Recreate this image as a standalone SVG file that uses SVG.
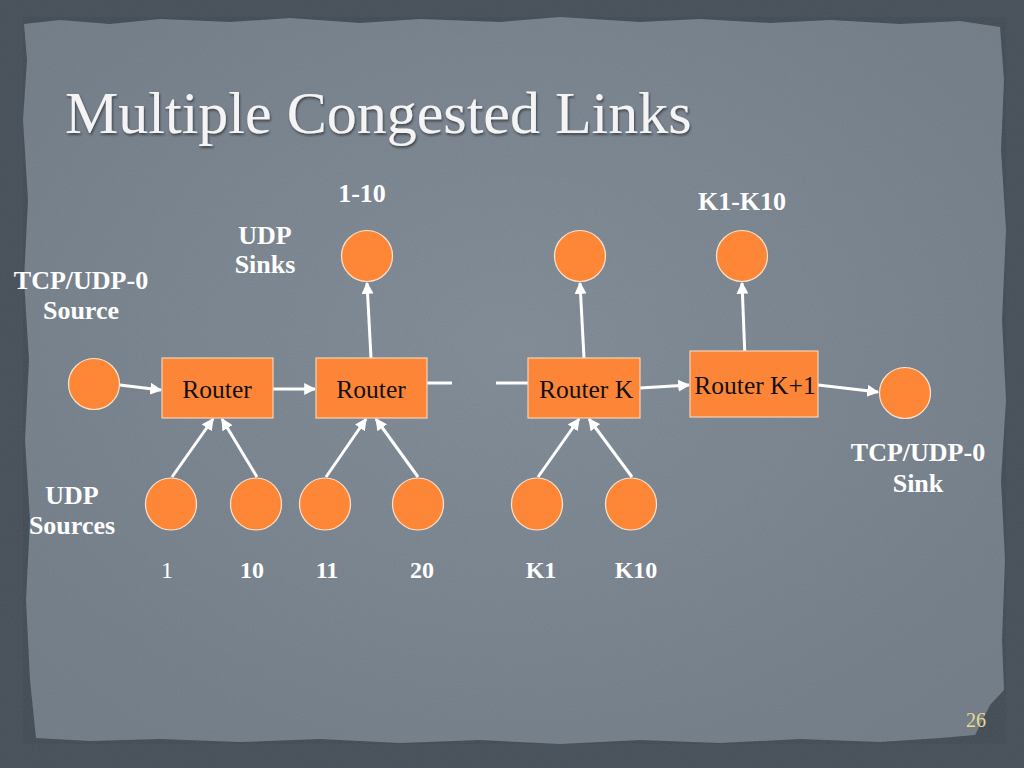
<svg xmlns="http://www.w3.org/2000/svg" width="1024" height="768" viewBox="0 0 1024 768">
<defs>
  <radialGradient id="panelGrad" cx="50%" cy="45%" r="65%">
    <stop offset="0" stop-color="#86919c"/>
    <stop offset="1" stop-color="#78838e"/>
  </radialGradient>
  <filter id="noise" x="0" y="0" width="100%" height="100%">
    <feTurbulence type="fractalNoise" baseFrequency="0.9" numOctaves="2" seed="3" result="n"/>
    <feColorMatrix type="matrix" values="0 0 0 0 0  0 0 0 0 0  0 0 0 0 0  0 0 0 0.12 0"/>
  </filter>
  <filter id="shadow" x="-5%" y="-20%" width="110%" height="140%">
    <feDropShadow dx="1" dy="2" stdDeviation="1.2" flood-color="#222" flood-opacity="0.6"/>
  </filter>
  <marker id="arrow" viewBox="0 0 10 10" refX="9" refY="5" markerWidth="4" markerHeight="4" orient="auto" markerUnits="strokeWidth">
    <path d="M0,0 L10,5 L0,10 z" fill="#ffffff"/>
  </marker>
  <style>
    .lbl { font-family: "Liberation Serif", "Times New Roman", serif; font-weight: bold; font-size: 26px; fill: #ffffff; text-anchor: middle; }
    .num { font-family: "Liberation Serif", "Times New Roman", serif; font-weight: bold; font-size: 24px; fill: #ffffff; text-anchor: middle; }
    .rt { font-family: "Liberation Serif", "Times New Roman", serif; font-size: 25.5px; fill: #111111; text-anchor: middle; }
    .box { fill: #fd8537; stroke: #f7d2b5; stroke-width: 1.2; }
    .node { fill: #fe8737; stroke: #fbe3cf; stroke-width: 1.2; }
    .conn { stroke: #ffffff; stroke-width: 3; fill: none; }
    .arr { stroke: #ffffff; stroke-width: 3; fill: none; marker-end: url(#arrow); }
  </style>
</defs>

<!-- background -->
<rect x="0" y="0" width="1024" height="768" fill="#4f5862"/>
<rect x="0" y="0" width="1024" height="768" filter="url(#noise)"/>
<path d="M24,24 L60,20 L110,24 L160,19 L230,22 L290,18 L360,23 L420,19 L500,22 L560,17 L640,22 L700,19 L770,23 L830,20 L900,24 L960,21 L1000,27 L1004,80 L1001,150 L1006,230 L1002,320 L1006,400 L1001,480 L1005,560 L1002,640 L1004,690 L990,705 L975,735 L940,738 L880,742 L800,739 L720,743 L640,740 L560,744 L480,740 L400,743 L320,739 L240,742 L160,739 L90,741 L36,738 L30,680 L26,600 L30,520 L25,440 L29,360 L24,280 L28,200 L23,120 L27,60 Z" fill="url(#panelGrad)"/>
<path d="M24,24 L60,20 L110,24 L160,19 L230,22 L290,18 L360,23 L420,19 L500,22 L560,17 L640,22 L700,19 L770,23 L830,20 L900,24 L960,21 L1000,27 L1004,80 L1001,150 L1006,230 L1002,320 L1006,400 L1001,480 L1005,560 L1002,640 L1004,690 L990,705 L975,735 L940,738 L880,742 L800,739 L720,743 L640,740 L560,744 L480,740 L400,743 L320,739 L240,742 L160,739 L90,741 L36,738 L30,680 L26,600 L30,520 L25,440 L29,360 L24,280 L28,200 L23,120 L27,60 Z" filter="url(#noise)" opacity="0.6"/>

<!-- title -->
<text x="65" y="133" font-family="'Liberation Serif', 'Times New Roman', serif" font-size="60" fill="#f4f4f4" filter="url(#shadow)">Multiple Congested Links</text>

<!-- connectors -->
<g id="connectors">
  <line class="arr" x1="120" y1="385" x2="161" y2="390"/>
  <line class="arr" x1="273" y1="389" x2="315" y2="389"/>
  <line class="conn" x1="427" y1="383" x2="452" y2="383"/>
  <line class="conn" x1="496" y1="383" x2="528" y2="383"/>
  <line class="arr" x1="640" y1="388" x2="689" y2="385"/>
  <line class="arr" x1="818" y1="385" x2="878" y2="392"/>
  <line class="arr" x1="371" y1="358" x2="367" y2="283"/>
  <line class="arr" x1="584" y1="358" x2="580" y2="283"/>
  <line class="arr" x1="745" y1="358" x2="742" y2="283"/>
  <line class="arr" x1="172" y1="477" x2="213" y2="419"/>
  <line class="arr" x1="257" y1="477" x2="222" y2="419"/>
  <line class="arr" x1="326" y1="477" x2="366" y2="419"/>
  <line class="arr" x1="418" y1="477" x2="376" y2="419"/>
  <line class="arr" x1="538" y1="477" x2="579" y2="419"/>
  <line class="arr" x1="632" y1="477" x2="589" y2="419"/>
</g>

<!-- routers -->
<g id="router1"><rect class="box" x="162" y="358" width="111" height="60"/><text class="rt" x="217" y="398">Router</text></g>
<g id="router2"><rect class="box" x="316" y="358" width="111" height="60"/><text class="rt" x="371" y="398">Router</text></g>
<g id="routerK"><rect class="box" x="528" y="358" width="112" height="60"/><text class="rt" x="586" y="398">Router K</text></g>
<g id="routerK1"><rect class="box" x="690" y="351" width="128" height="66"/><text class="rt" x="755" y="394">Router K+1</text></g>

<!-- circles -->
<g id="tcpSource"><circle class="node" cx="94" cy="384" r="25.5"/></g>
<g id="tcpSink"><circle class="node" cx="905" cy="393" r="25.5"/></g>
<g id="sink1"><circle class="node" cx="367" cy="256" r="25.5"/></g>
<g id="sinkK"><circle class="node" cx="580" cy="256" r="25.5"/></g>
<g id="sinkK1"><circle class="node" cx="742" cy="256" r="25.5"/></g>
<g id="src1"><ellipse class="node" cx="171" cy="504" rx="25.5" ry="26"/></g>
<g id="src10"><ellipse class="node" cx="256" cy="504" rx="25.5" ry="26"/></g>
<g id="src11"><ellipse class="node" cx="325" cy="504" rx="25.5" ry="26"/></g>
<g id="src20"><ellipse class="node" cx="418" cy="504" rx="25.5" ry="26"/></g>
<g id="srcK1"><ellipse class="node" cx="537" cy="504" rx="25.5" ry="26"/></g>
<g id="srcK10"><ellipse class="node" cx="631" cy="504" rx="25.5" ry="26"/></g>

<!-- labels -->
<g id="labels">
  <text class="lbl" x="362" y="202">1-10</text>
  <text class="lbl" x="265" y="244">UDP</text>
  <text class="lbl" x="265" y="273">Sinks</text>
  <text class="lbl" x="81" y="289">TCP/UDP-0</text>
  <text class="lbl" x="81" y="319">Source</text>
  <text class="lbl" x="742" y="210">K1-K10</text>
  <text class="lbl" x="918" y="461">TCP/UDP-0</text>
  <text class="lbl" x="918" y="492">Sink</text>
  <text class="lbl" x="72" y="504">UDP</text>
  <text class="lbl" x="72" y="534">Sources</text>
  <text class="num" x="167" y="578" style="font-weight:normal">1</text>
  <text class="num" x="252" y="578">10</text>
  <text class="num" x="327" y="578">11</text>
  <text class="num" x="422" y="578">20</text>
  <text class="num" x="541" y="578">K1</text>
  <text class="num" x="636" y="578">K10</text>
</g>

<text x="976" y="727" font-family="'Liberation Serif', 'Times New Roman', serif" font-size="20" fill="#e9d98e" text-anchor="middle">26</text>
</svg>
